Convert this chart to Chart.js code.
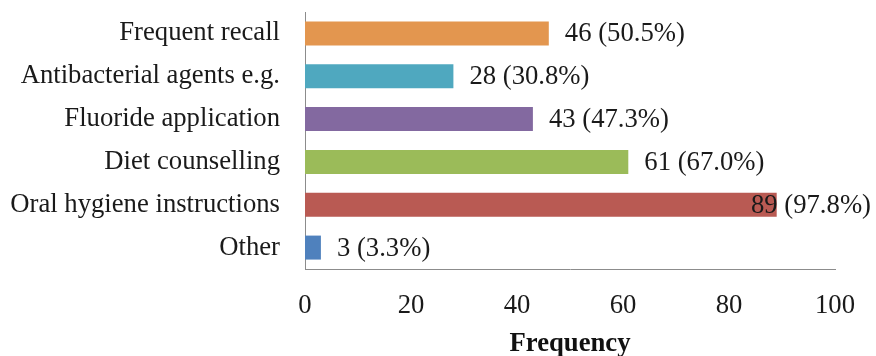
<!DOCTYPE html>
<html>
<head>
<meta charset="utf-8">
<script src="https://cdn.jsdelivr.net/npm/chart.js@4"></script>
<style>
  html, body { margin: 0; padding: 0; background: #fff; }
  #wrap { width: 876px; height: 356px; }
</style>
</head>
<body>
<div id="wrap"><canvas id="c" width="876" height="356"></canvas></div>
<script>
// Preventive measures recommended (n = 91)
const categories = [
  'Frequent recall',
  'Antibacterial agents e.g.',
  'Fluoride application',
  'Diet counselling',
  'Oral hygiene instructions',
  'Other'
];
const frequency = [46, 28, 43, 61, 89, 3];
const percentLabels = ['50.5%', '30.8%', '47.3%', '67.0%', '97.8%', '3.3%'];
const xTicks = [0, 20, 40, 60, 80, 100];
const barColors = ['#E3964F', '#4FA8BF', '#8369A0', '#9BBB59', '#B95A53', '#4F81BD'];

const FONT = '"Liberation Serif", "Times New Roman", serif';
const SIZE = 26.7;

// Writes "n (p%)" just past the end of each bar, kept inside the canvas
const valueLabels = {
  id: 'valueLabels',
  afterDatasetsDraw(chart) {
    const ctx = chart.ctx;
    const meta = chart.getDatasetMeta(0);
    ctx.save();
    ctx.font = SIZE + 'px ' + FONT;
    ctx.fillStyle = '#1a1a1a';
    ctx.textBaseline = 'middle';
    ctx.textAlign = 'left';
    meta.data.forEach((bar, i) => {
      const text = frequency[i] + ' (' + percentLabels[i] + ')';
      const w = ctx.measureText(text).width;
      let x = bar.x + 16;
      if (x + w > chart.width - 5) x = chart.width - 5 - w;
      ctx.fillText(text, x, bar.y + 1);
    });
    ctx.restore();
  }
};

new Chart(document.getElementById('c'), {
  type: 'bar',
  data: {
    labels: categories,
    datasets: [{
      data: frequency,
      backgroundColor: barColors,
      borderWidth: 0,
      categoryPercentage: 1.0,
      barPercentage: 0.56
    }]
  },
  options: {
    indexAxis: 'y',
    responsive: false,
    animation: false,
    events: [],
    layout: { padding: { left: 0, right: 41, top: 12, bottom: 0 } },
    plugins: {
      legend: { display: false },
      tooltip: { enabled: false }
    },
    scales: {
      x: {
        min: 0,
        max: 100,
        afterBuildTicks(scale) { scale.ticks = xTicks.map(v => ({ value: v })); },
        afterFit(scale) {
          scale.height = 87;
          scale.paddingLeft = 0;
          scale.paddingRight = 0;
        },
        grid: { display: false, drawTicks: false },
        border: { display: true, color: '#8c8c8c', width: 1 },
        ticks: {
          padding: 21,
          color: '#1a1a1a',
          font: { family: FONT, size: SIZE }
        },
        title: {
          display: true,
          text: 'Frequency',
          color: '#111',
          padding: { top: 0, bottom: 0 },
          font: { family: FONT, size: SIZE, weight: 'bold', lineHeight: 0.9 }
        }
      },
      y: {
        afterFit(scale) {
          scale.width = 305;
          scale.paddingTop = 0;
          scale.paddingBottom = 0;
        },
        grid: { display: false, drawTicks: false },
        border: { display: true, color: '#8c8c8c', width: 1 },
        ticks: {
          padding: 25,
          color: '#1a1a1a',
          font: { family: FONT, size: SIZE }
        }
      }
    }
  },
  plugins: [valueLabels]
});
</script>
</body>
</html>
